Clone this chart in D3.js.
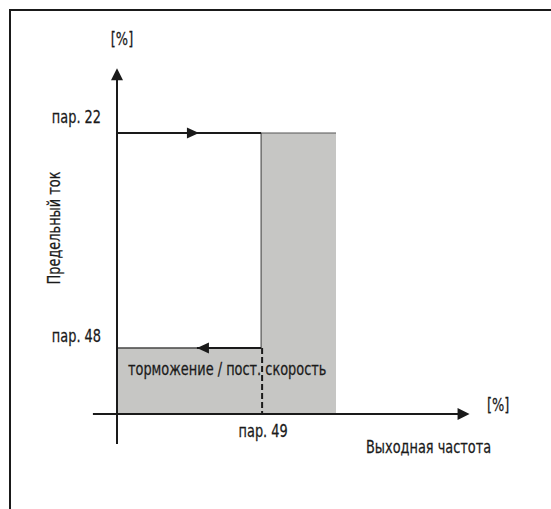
<!DOCTYPE html>
<html>
<head>
<meta charset="utf-8">
<script src="https://cdn.jsdelivr.net/npm/d3@7/dist/d3.min.js"></script>
<style>
  html, body { margin: 0; padding: 0; background: #fff; }
  svg text { font-family: "DejaVu Sans Condensed", "Liberation Sans Narrow", sans-serif; fill: #1a1a1a; stroke: #1a1a1a; stroke-width: 0.25; }
</style>
</head>
<body>
<svg id="chart" width="551" height="509"></svg>
<script>
// Current-limit levels (% of the current scale)
const levelNames = ["пар. 22", "пар. 48"];
const levelValues = [100, 23.5];
// Frequency marks: switch-over point and end of the shaded zone
const freqNames = ["пар. 49"];
const freqValues = [65.8];
const zoneEnd = [100];
// Arrow tip positions along the horizontal limit lines
const arrowTips = [36.5, 36.5];
// Axis extents
const xExtent = [-11, 161];
const yExtent = [-10.7, 123];
const axisUnits = ["[%]", "[%]"];
const axisTitles = ["Выходная частота", "Предельный ток"];
const zoneLabel = ["торможение / пост. скорость"];

const svg = d3.select("#chart");
const x = d3.scaleLinear().domain([0, 100]).range([117, 336]);
const y = d3.scaleLinear().domain([0, 100]).range([414, 133]);

const ink = "#1a1a1a";
const shade = "#c6c6c4";
const fs = 17.5;
const squeeze = 0.82;

// Condensed text: placed at (px, py), narrowed horizontally
function label(px, py, txt, anchor, rotate) {
  return svg.append("text")
    .attr("transform", `translate(${px},${py})${rotate ? " rotate(-90)" : ""} scale(${squeeze},1)`)
    .attr("text-anchor", anchor || "start")
    .attr("font-size", fs)
    .text(txt);
}

// Frame (top and left edges)
svg.append("path")
  .attr("d", "M10,509 V10 H551")
  .attr("fill", "none").attr("stroke", ink).attr("stroke-width", 2);

// Shaded zones: high-current zone beyond par.49 and low-current zone below par.48
svg.append("rect")
  .attr("x", x(freqValues[0])).attr("y", y(levelValues[0]))
  .attr("width", x(zoneEnd[0]) - x(freqValues[0]))
  .attr("height", y(0) - y(levelValues[0]))
  .attr("fill", shade);
svg.append("rect")
  .attr("x", x(0)).attr("y", y(levelValues[1]))
  .attr("width", x(freqValues[0]) - x(0))
  .attr("height", y(0) - y(levelValues[1]))
  .attr("fill", shade);

// Thin outline of the zones
svg.append("path")
  .attr("d", `M${x(freqValues[0])},${y(levelValues[1])} V${y(levelValues[0])} H${x(zoneEnd[0])}`)
  .attr("fill", "none").attr("stroke", "#555").attr("stroke-width", 1.2);
svg.append("path")
  .attr("d", `M${x(0)},${y(levelValues[1])} H${x(freqValues[0])}`)
  .attr("fill", "none").attr("stroke", "#444").attr("stroke-width", 1.5);

// Limit lines
svg.append("line")
  .attr("x1", x(0)).attr("x2", x(freqValues[0]))
  .attr("y1", y(levelValues[0])).attr("y2", y(levelValues[0]))
  .attr("stroke", ink).attr("stroke-width", 2);
svg.append("line")
  .attr("x1", x(arrowTips[1])).attr("x2", x(freqValues[0]))
  .attr("y1", y(levelValues[1])).attr("y2", y(levelValues[1]))
  .attr("stroke", ink).attr("stroke-width", 2);

// Dashed switch-over line at par.49
svg.append("line")
  .attr("x1", x(freqValues[0]) + 1).attr("x2", x(freqValues[0]) + 1)
  .attr("y1", y(levelValues[1])).attr("y2", y(0))
  .attr("stroke", ink).attr("stroke-width", 2)
  .attr("stroke-dasharray", "6,3");

// Direction arrows on the limit lines
function arrowHead(tipX, tipY, dir, len, half) {
  const bx = tipX - dir * len;
  return `M${tipX},${tipY} L${bx},${tipY - half} L${bx},${tipY + half} Z`;
}
svg.append("path").attr("d", arrowHead(x(arrowTips[0]) + 2, y(levelValues[0]), 1, 12, 5.5)).attr("fill", ink);
svg.append("path").attr("d", arrowHead(x(arrowTips[1]), y(levelValues[1]), -1, 12, 5.5)).attr("fill", ink);

// Axes
svg.append("line")
  .attr("x1", x(xExtent[0])).attr("x2", x(xExtent[1]) - 8)
  .attr("y1", y(0)).attr("y2", y(0))
  .attr("stroke", ink).attr("stroke-width", 2);
svg.append("path").attr("d", arrowHead(x(xExtent[1]), y(0), 1, 12, 6)).attr("fill", ink);
svg.append("line")
  .attr("x1", x(0)).attr("x2", x(0))
  .attr("y1", y(yExtent[0])).attr("y2", y(yExtent[1]) + 8)
  .attr("stroke", ink).attr("stroke-width", 2);
svg.append("path")
  .attr("d", `M${x(0)},${y(yExtent[1])} L${x(0) - 6},${y(yExtent[1]) + 12} L${x(0) + 6},${y(yExtent[1]) + 12} Z`)
  .attr("fill", ink);

// Level labels
levelNames.forEach((d, i) => label(101, y(levelValues[i]) - (i === 0 ? 10 : 6), d, "end"));

// Frequency label
freqNames.forEach((d, i) => label(x(freqValues[i]) + 2, y(0) + 23, d, "middle"));

// Zone label
label(x(0) + 11, 375, zoneLabel[0], "start");

// Units and axis titles
label(x(0) + 5, 45, axisUnits[1], "middle");
label(487, 411, axisUnits[0], "start");
label(366, 453, axisTitles[0], "start");
label(60, 228, axisTitles[1], "middle", true);
</script>
</body>
</html>
